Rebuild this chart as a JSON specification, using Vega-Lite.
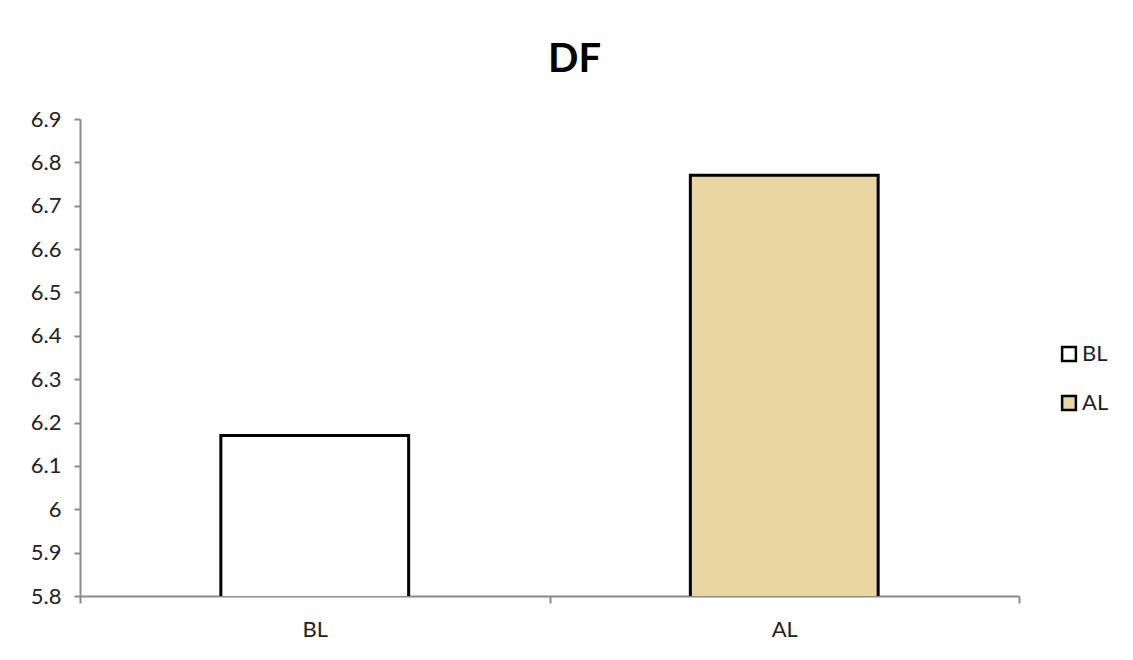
{
  "$schema": "https://vega.github.io/schema/vega-lite/v6.json",
  "width": 939,
  "height": 477,
  "padding": {"left": 30, "top": 40, "right": 10, "bottom": 10},
  "background": "white",
  "title": {"text": "DF", "font": "Lato", "fontSize": 40, "fontWeight": "bold", "color": "black", "anchor": "middle", "offset": 28, "dx": 25},
  "data": {"values": [
    {"group": "BL", "value": 6.17},
    {"group": "AL", "value": 6.77}
  ]},
  "mark": {"type": "bar", "stroke": "black", "strokeWidth": 3, "clip": true, "width": {"band": 0.4}},
  "encoding": {
    "x": {
      "field": "group", "type": "nominal", "sort": ["BL", "AL"],
      "scale": {"paddingInner": 0, "paddingOuter": 0},
      "axis": {"title": null, "labelAngle": 0, "tickBand": "extent", "labelFont": "Lato", "labelFontSize": 22, "labelColor": "#222", "labelPadding": 16, "tickSize": 7, "tickColor": "#8a8a8a", "domainColor": "#8a8a8a", "domainWidth": 2, "tickWidth": 2}
    },
    "y": {
      "field": "value", "type": "quantitative",
      "scale": {"domain": [5.8, 6.9], "zero": false, "nice": false},
      "axis": {"title": null, "values": [5.8, 5.9, 6, 6.1, 6.2, 6.3, 6.4, 6.5, 6.6, 6.7, 6.8, 6.9], "format": "~g", "grid": false, "labelFont": "Lato", "labelFontSize": 22, "labelColor": "#222", "labelPadding": 13, "tickSize": 6, "tickColor": "#8a8a8a", "domainColor": "#8a8a8a", "domainWidth": 2, "tickWidth": 2}
    },
    "fill": {
      "field": "group", "type": "nominal",
      "scale": {"domain": ["BL", "AL"], "range": ["#ffffff", "#EAD6A2"]},
      "legend": {"title": null, "orient": "none", "legendX": 978, "legendY": 224, "symbolType": "square", "symbolSize": 190, "symbolStrokeColor": "black", "symbolStrokeWidth": 2.5, "labelFont": "Lato", "labelFontSize": 22, "labelColor": "#222", "rowPadding": 25, "labelOffset": 2}
    }
  },
  "config": {"view": {"stroke": null}}
}
